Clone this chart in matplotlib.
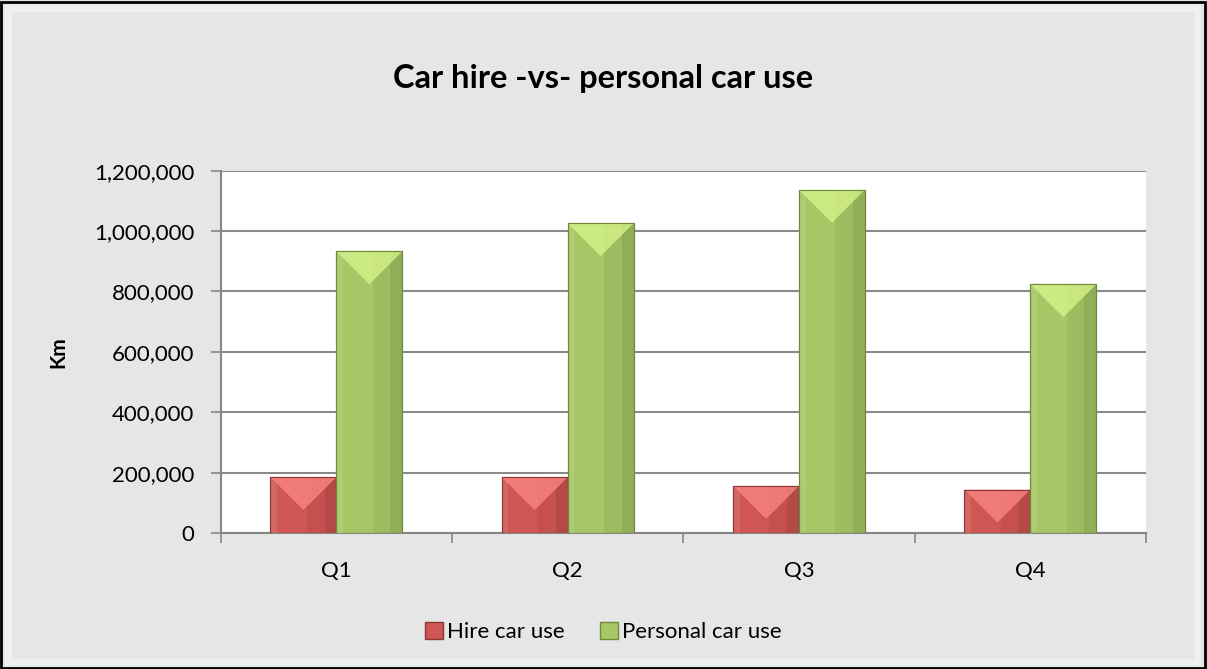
import matplotlib.pyplot as plt
import matplotlib.patches as mpatches
from matplotlib.ticker import FuncFormatter, FixedLocator
import numpy as np

plt.rcParams['font.family'] = ['Lato', 'DejaVu Sans']

quarters = ["Q1", "Q2", "Q3", "Q4"]
hire_km = [185000, 185000, 156000, 144000]
personal_km = [933000, 1026000, 1137000, 824000]

series_names = ["Hire car use", "Personal car use"]
face_colors = ["#cf5653", "#a6c765"]
top_colors = ["#ff8c87", "#dcf98e"]
edge_colors = ["#8c3836", "#6f8a3a"]

fig = plt.figure(figsize=(12.07, 6.69), dpi=100, facecolor="#e6e6e6")
ax = fig.add_axes([0.1829, 0.2033, 0.9495 - 0.1829, 0.7448 - 0.2033])

# outer frame
fig.patches.append(mpatches.Rectangle((0.001, 0.002), 0.997, 0.995, transform=fig.transFigure,
                                      fill=False, edgecolor="black", linewidth=2, zorder=10))
fig.patches.append(mpatches.Rectangle((0.007, 0.011), 0.985, 0.977, transform=fig.transFigure,
                                      fill=False, edgecolor="#f0f0f0", linewidth=5, zorder=9))

x = np.arange(len(quarters))
w = 0.285
all_bars = []
for i, vals in enumerate([hire_km, personal_km]):
    off = (i - 0.5) * w
    bars = ax.bar(x + off, vals, width=w, color=face_colors[i], edgecolor=edge_colors[i],
                  linewidth=0.8, label=series_names[i], zorder=3)
    all_bars.append(bars)

ymax = 1200000
ax.set_ylim(0, ymax)
ax.set_xlim(-0.5, 3.5)
fig.canvas.draw()
# bevel effect: side shading and top triangle, derived from the bar patches
bbox = ax.get_window_extent()
units_per_px_y = ymax / bbox.height
units_per_px_x = 4.0 / bbox.width
for i, bars in enumerate(all_bars):
    for p in bars.patches:
        x0, y0 = p.get_x(), p.get_y()
        bw, bh = p.get_width(), p.get_height()
        half_h = (bw / 2) / units_per_px_x * units_per_px_y
        ax.add_patch(mpatches.Rectangle((x0 + bw * 0.55, y0), bw * 0.45, bh,
                                        facecolor="black", alpha=0.05, linewidth=0, zorder=4))
        ax.add_patch(mpatches.Rectangle((x0 + bw * 0.82, y0), bw * 0.18, bh,
                                        facecolor="black", alpha=0.08, linewidth=0, zorder=4))
        ax.add_patch(mpatches.Rectangle((x0, y0), bw * 0.1, bh,
                                        facecolor="white", alpha=0.1, linewidth=0, zorder=4))
        top = y0 + bh
        tri_h = min(half_h, bh)
        ax.add_patch(mpatches.Polygon([(x0, top), (x0 + bw, top), (x0 + bw / 2, top - tri_h)],
                                      closed=True, facecolor=top_colors[i], alpha=0.7,
                                      linewidth=0, zorder=4))
        ax.add_patch(mpatches.Rectangle((x0, y0), bw, bh, fill=False,
                                        edgecolor=edge_colors[i], linewidth=0.8, zorder=5))

ax.set_facecolor("white")
ax.set_yticks(np.arange(0, ymax + 1, 200000))
ax.yaxis.set_major_formatter(FuncFormatter(lambda v, pos: f"{int(v):,}"))
ax.yaxis.grid(True, color="#8a8a8a", linewidth=1.5, zorder=0)
ax.set_axisbelow(True)

ax.set_xticks(x)
ax.set_xticklabels(quarters)
ax.xaxis.set_minor_locator(FixedLocator(np.arange(-0.5, 4, 1)))
ax.tick_params(axis="x", which="major", length=0, pad=20, labelsize=16)
ax.tick_params(axis="x", which="minor", length=7, width=1.2, color="#868686")
ax.tick_params(axis="y", length=7, width=1.2, color="#868686", labelsize=16, pad=12)

for s in ["top", "right"]:
    ax.spines[s].set_visible(False)
for s in ["left", "bottom"]:
    ax.spines[s].set_color("#868686")
    ax.spines[s].set_linewidth(1.5)

ax.set_ylabel("Km", fontsize=15, fontweight="bold")
ax.yaxis.set_label_coords(-0.165, 0.5)
fig.text(0.5, 0.883, "Car hire -vs- personal car use", ha="center", va="center",
         fontsize=23.5, fontweight="bold")

handles = [mpatches.Patch(facecolor=face_colors[i], edgecolor=edge_colors[i]) for i in range(2)]
fig.legend(handles, series_names, loc="center", bbox_to_anchor=(0.5, 0.055), ncol=2,
           frameon=False, fontsize=16, handlelength=0.8, handleheight=0.8,
           handletextpad=0.2, columnspacing=1.6)

fig.savefig("out.png", dpi=100, facecolor=fig.get_facecolor())
